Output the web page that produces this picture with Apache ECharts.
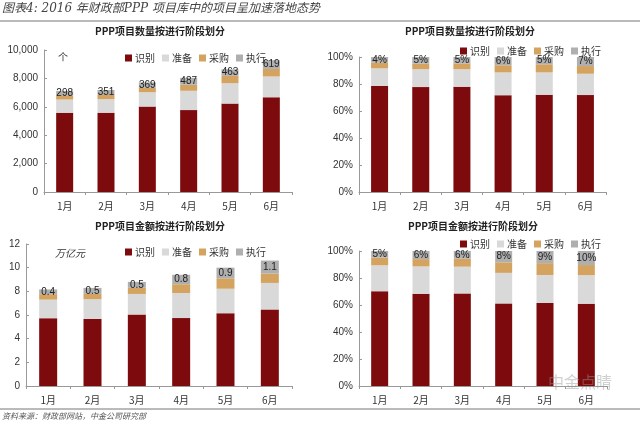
<!DOCTYPE html>
<html>
<head>
<meta charset="utf-8">
<script src="https://cdn.jsdelivr.net/npm/echarts@6/dist/echarts.min.js"></script>
<style>
  html, body { margin: 0; padding: 0; background: #fff; }
  #chart { width: 640px; height: 424px; }
</style>
</head>
<body>
<div id="chart"></div>
<script>
const months = ['1月', '2月', '3月', '4月', '5月', '6月']
const stages = ['识别', '准备', '采购', '执行']
const colors = ['#7D0A0C', '#D9D9D9', '#D4A35F', '#AFAFAF']

// 项目数量（个）
const countShibie = [5580, 5583, 6015, 5766, 6224, 6671]
const countZhunbei = [930, 955, 1010, 1360, 1435, 1465]
const countCaigou = [302, 296, 327, 429, 522, 530]
const countZhixing = [298, 351, 369, 487, 463, 619]

// 项目数量占比（%）
const countPctShibie = [78.5, 77.7, 77.9, 71.7, 72.0, 71.8]
const countPctZhunbei = [13.1, 13.3, 13.1, 16.9, 16.6, 15.8]
const countPctCaigou = [4.2, 4.1, 4.2, 5.3, 6.0, 5.7]
const countPctZhixing = [4.2, 4.9, 4.8, 6.1, 5.4, 6.7]

// 项目金额（万亿元）
const amtShibie = [5.73, 5.66, 6.04, 5.74, 6.15, 6.47]
const amtZhunbei = [1.57, 1.68, 1.74, 2.12, 2.07, 2.24]
const amtCaigou = [0.46, 0.45, 0.52, 0.74, 0.88, 0.79]
const amtZhixing = [0.4, 0.5, 0.5, 0.8, 0.9, 1.1]

// 项目金额占比（%）
const amtPctShibie = [70.2, 68.3, 68.6, 61.2, 61.5, 61.0]
const amtPctZhunbei = [19.2, 20.3, 19.8, 22.6, 20.7, 21.1]
const amtPctCaigou = [5.7, 5.4, 5.9, 7.8, 8.8, 7.5]
const amtPctZhixing = [4.9, 6.0, 5.7, 8.4, 9.0, 10.4]

const countTicks = { min: 0, max: 10000, interval: 2000 }
const amtTicks = { min: 0, max: 12, interval: 2 }
const pctTicks = { min: 0, max: 100, interval: 20 }

const font = '"Noto Sans CJK SC", "Liberation Sans", sans-serif'
const numFont = '"Liberation Sans", Arial, sans-serif'

const chart = echarts.init(document.getElementById('chart'), null, { renderer: 'canvas' })

const grids = [
  { left: 44, top: 50, width: 248, height: 142 },
  { left: 359, top: 57, width: 247, height: 135 },
  { left: 26, top: 244, width: 266, height: 142 },
  { left: 359, top: 251, width: 248, height: 135 }
]

function xAxis(i) {
  return {
    type: 'category', gridIndex: i, data: months,
    axisLine: { lineStyle: { color: '#999' } },
    axisTick: { show: true, length: 3, lineStyle: { color: '#999' } },
    axisLabel: { color: '#333', fontSize: 10, fontFamily: font, margin: 9 }
  }
}

function yAxis(i, ticks, fmt) {
  return {
    type: 'value', gridIndex: i, min: ticks.min, max: ticks.max, interval: ticks.interval,
    splitLine: { show: false },
    axisLine: { show: true, lineStyle: { color: '#999' } },
    axisTick: { show: true, inside: true, length: 3, lineStyle: { color: '#999' } },
    axisLabel: { color: '#333', fontSize: 10, fontFamily: numFont, formatter: fmt, margin: 6 }
  }
}

function seriesFor(i, arrays, stack, labelFmt) {
  return arrays.map((arr, k) => ({
    name: stages[k], type: 'bar', stack: stack,
    xAxisIndex: i, yAxisIndex: i, data: arr,
    barWidth: i === 2 ? 18 : 17,
    itemStyle: { color: colors[k] },
    label: k === 3 ? {
      show: true, position: 'inside', color: '#222', fontSize: 10,
      fontFamily: numFont, formatter: labelFmt
    } : { show: false },
    emphasis: { disabled: true }
  }))
}

function legend(left, top) {
  return {
    data: stages, left: left, top: top, itemWidth: 7, itemHeight: 7, itemGap: 7,
    icon: 'rect', textStyle: { fontSize: 10, color: '#333', fontFamily: font, padding: [0, 0, 0, -2] }
  }
}

function title(text, x, y) {
  return {
    text: text, left: x, top: y, textAlign: 'center', padding: 0,
    textStyle: { fontSize: 10, fontWeight: 'bold', color: '#222', fontFamily: font }
  }
}

chart.setOption({
  animation: false,
  title: [
    title('PPP项目数量按进行阶段划分', 160, 26),
    title('PPP项目数量按进行阶段划分', 470, 26),
    title('PPP项目金额按进行阶段划分', 160, 221),
    title('PPP项目金额按进行阶段划分', 473, 221)
  ],
  legend: [legend(120, 48), legend(455, 41), legend(120, 242), legend(455, 234)],
  grid: grids,
  xAxis: [xAxis(0), xAxis(1), xAxis(2), xAxis(3)],
  yAxis: [
    yAxis(0, countTicks, v => v.toLocaleString('en-US')),
    yAxis(1, pctTicks, '{value}%'),
    yAxis(2, amtTicks, '{value}'),
    yAxis(3, pctTicks, '{value}%')
  ],
  series: [].concat(
    seriesFor(0, [countShibie, countZhunbei, countCaigou, countZhixing], 'c', p => p.value),
    seriesFor(1, [countPctShibie, countPctZhunbei, countPctCaigou, countPctZhixing], 'cp', p => Math.round(p.value) + '%'),
    seriesFor(2, [amtShibie, amtZhunbei, amtCaigou, amtZhixing], 'a', p => p.value.toFixed(1)),
    seriesFor(3, [amtPctShibie, amtPctZhunbei, amtPctCaigou, amtPctZhixing], 'ap', p => Math.round(p.value) + '%')
  ),
  graphic: [
    { type: 'text', left: 2, top: 3, style: { text: '图表4: 2016 年财政部PPP 项目库中的项目呈加速落地态势', fontSize: 12, fontStyle: 'italic', fill: '#444', fontFamily: '"DejaVu Serif", "Noto Sans CJK SC", serif' } },
    { type: 'line', shape: { x1: 0, y1: 21, x2: 640, y2: 21 }, style: { stroke: '#777', lineWidth: 1 } },
    { type: 'line', shape: { x1: 0, y1: 409, x2: 640, y2: 409 }, style: { stroke: '#777', lineWidth: 1 } },
    { type: 'text', left: 2, top: 412, style: { text: '资料来源：财政部网站，中金公司研究部', fontSize: 8, fontStyle: 'italic', fill: '#555', fontFamily: font } },
    { type: 'text', left: 58, top: 52, style: { text: '个', fontSize: 10, fill: '#333', fontFamily: font } },
    { type: 'text', left: 55, top: 248, style: { text: '万亿元', fontSize: 10, fontStyle: 'italic', fill: '#333', fontFamily: font } },
    { type: 'text', left: 548, top: 374, z: 100, style: { text: '中金点睛', fontSize: 16, fill: 'rgba(150,150,150,0.45)', fontFamily: font } }
  ]
})
</script>
</body>
</html>
